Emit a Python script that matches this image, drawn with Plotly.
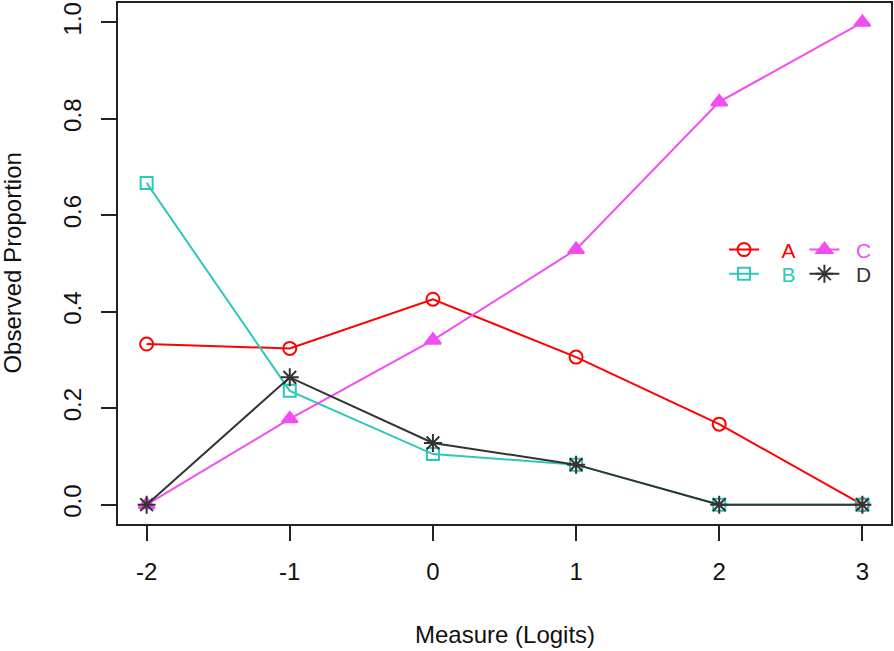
import plotly.graph_objects as go

measure = [-2, -1, 0, 1, 2, 3]
prop_A = [0.333, 0.324, 0.426, 0.306, 0.167, 0.0]
prop_B = [0.667, 0.236, 0.105, 0.083, 0.0, 0.0]
prop_C = [0.0, 0.178, 0.341, 0.529, 0.835, 1.0]
prop_D = [0.0, 0.264, 0.128, 0.083, 0.0, 0.0]

x_ticks = [-2, -1, 0, 1, 2, 3]
y_ticks = [0.0, 0.2, 0.4, 0.6, 0.8, 1.0]
y_tick_labels = ["0.0", "0.2", "0.4", "0.6", "0.8", "1.0"]

FONT = "Liberation Sans, Arial, Helvetica, sans-serif"

series = [
    ("A", prop_A, "#FF0000", "circle-open", 13, "legend", 3),
    ("B", prop_B, "#2EC8B8", "square-open", 12, "legend3", 3),
    ("C", prop_C, "#F24CF2", "triangle-up", 14, "legend2", 2),
    ("D", prop_D, "#333333", "asterisk-open", 15, "legend4", 2),
]

fig = go.Figure()
for name, vals, col, sym, sz, leg, pad in series:
    fig.add_trace(go.Scatter(
        x=measure, y=vals, mode="lines+markers",
        name=f"<span style='color:{col}'>{'&nbsp;' * pad}{name}</span>",
        line=dict(color=col, width=2),
        marker=dict(symbol=sym, size=sz, color=col,
                    line=dict(color=col, width=2)),
        legend=leg,
    ))

axis_common = dict(
    showline=True, mirror=True, linecolor="#222", linewidth=1.5,
    ticks="outside", ticklen=15, tickwidth=1.5, tickcolor="#222",
    showgrid=False, zeroline=False, automargin=False,
    tickfont=dict(family=FONT, size=24, color="#111"),
)

def leg(x, y):
    return dict(x=x, y=y, xanchor="left", yanchor="top",
                bgcolor="rgba(0,0,0,0)", tracegroupgap=0,
                font=dict(family=FONT, size=21))

fig.update_layout(
    width=894, height=651,
    margin=dict(l=118, r=3, t=3, b=127),
    plot_bgcolor="white", paper_bgcolor="white",
    showlegend=True,
    xaxis=dict(range=[-2.2, 3.2], tickvals=x_ticks,
               ticktext=[str(v) for v in x_ticks], ticklabelstandoff=10,
               **axis_common),
    yaxis=dict(range=[-0.04, 1.04], tickvals=y_ticks, ticktext=y_tick_labels,
               tickangle=-90, ticklabelstandoff=11, **axis_common),
    legend=leg(0.784, 0.5654),
    legend3=leg(0.784, 0.519),
    legend2=leg(0.888, 0.5654),
    legend4=leg(0.888, 0.519),
    annotations=[
        dict(text="Measure (Logits)", xref="paper", yref="paper",
             x=0.5, y=-0.212, xanchor="center", yanchor="middle",
             showarrow=False, font=dict(family=FONT, size=24, color="#111")),
        dict(text="Observed Proportion", xref="paper", yref="paper",
             x=-0.137, y=0.5, xanchor="center", yanchor="middle",
             textangle=-90, showarrow=False,
             font=dict(family=FONT, size=24, color="#111")),
    ],
)

fig.write_html("out.html", config={"displayModeBar": False},
               post_script="document.body.style.margin='0px';")
